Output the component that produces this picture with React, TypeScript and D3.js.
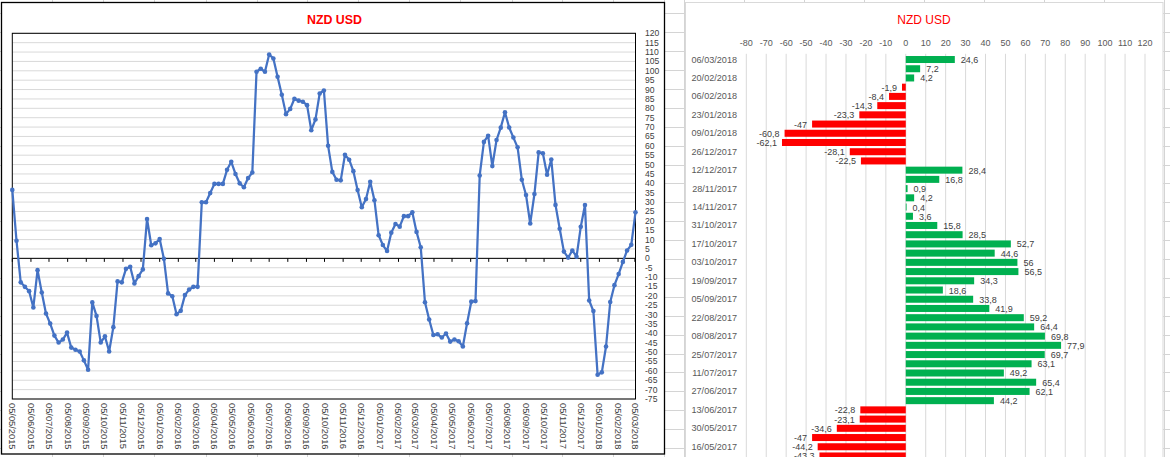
import React, { useEffect } from 'react';
import * as d3 from 'd3';

// Weekly report dates (Tuesdays)
const weekDates: string[] = [
  '05/05/2015','12/05/2015','19/05/2015','26/05/2015','02/06/2015','09/06/2015','16/06/2015','23/06/2015','30/06/2015',
  '07/07/2015','14/07/2015','21/07/2015','28/07/2015','04/08/2015','11/08/2015','18/08/2015','25/08/2015',
  '01/09/2015','08/09/2015','15/09/2015','22/09/2015','29/09/2015','06/10/2015','13/10/2015','20/10/2015','27/10/2015',
  '03/11/2015','10/11/2015','17/11/2015','24/11/2015','01/12/2015','08/12/2015','15/12/2015','22/12/2015','29/12/2015',
  '05/01/2016','12/01/2016','19/01/2016','26/01/2016','02/02/2016','09/02/2016','16/02/2016','23/02/2016',
  '01/03/2016','08/03/2016','15/03/2016','22/03/2016','29/03/2016','05/04/2016','12/04/2016','19/04/2016','26/04/2016',
  '03/05/2016','10/05/2016','17/05/2016','24/05/2016','31/05/2016','07/06/2016','14/06/2016','21/06/2016','28/06/2016',
  '05/07/2016','12/07/2016','19/07/2016','26/07/2016','02/08/2016','09/08/2016','16/08/2016','23/08/2016','30/08/2016',
  '06/09/2016','13/09/2016','20/09/2016','27/09/2016','04/10/2016','11/10/2016','18/10/2016','25/10/2016',
  '01/11/2016','08/11/2016','15/11/2016','22/11/2016','29/11/2016','06/12/2016','13/12/2016','20/12/2016','27/12/2016',
  '03/01/2017','10/01/2017','17/01/2017','24/01/2017','31/01/2017','07/02/2017','14/02/2017','21/02/2017','28/02/2017',
  '07/03/2017','14/03/2017','21/03/2017','28/03/2017','04/04/2017','11/04/2017','18/04/2017','25/04/2017',
  '02/05/2017','09/05/2017','16/05/2017','23/05/2017','30/05/2017','06/06/2017','13/06/2017','20/06/2017','27/06/2017',
  '04/07/2017','11/07/2017','18/07/2017','25/07/2017','01/08/2017','08/08/2017','15/08/2017','22/08/2017','29/08/2017',
  '05/09/2017','12/09/2017','19/09/2017','26/09/2017','03/10/2017','10/10/2017','17/10/2017','24/10/2017','31/10/2017',
  '07/11/2017','14/11/2017','21/11/2017','28/11/2017','05/12/2017','12/12/2017','19/12/2017','26/12/2017',
  '02/01/2018','09/01/2018','16/01/2018','23/01/2018','30/01/2018','06/02/2018','13/02/2018','20/02/2018','27/02/2018',
  '06/03/2018'
];

// Net position values
const netPositions: number[] = [
  36.5, 9.4, -12.8, -15.2, -17.5, -26.2, -6.3, -18.2, -29.4, -34.8,
  -41.2, -44.9, -43.3, -39.6, -47.6, -48.7, -49.7, -54.4, -59.4, -23.5,
  -30.7, -44.9, -41.6, -49.7, -36.7, -12.3, -12.8, -5.6, -4.5, -13.4,
  -9.5, -5.9, 21.0, 7.0, 8.0, 10.3, -0.2, -18.7, -20.2, -29.8,
  -28.0, -19.6, -16.6, -15.2, -15.2, 29.9, 29.9, 34.8, 39.7, 39.7,
  39.7, 47.2, 51.5, 45.0, 40.0, 37.9, 42.8, 45.8, 99.5, 101.1,
  99.5, 108.7, 106.6, 96.8, 87.2, 76.9, 79.7, 85.1, 84.1, 83.5,
  81.7, 68.3, 74.1, 87.9, 89.5, 60.0, 46.1, 41.9, 41.6, 55.2,
  52.6, 46.5, 36.4, 27.3, 31.6, 40.8, 31.0, 12.3, 7.1, 3.9,
  13.7, 18.3, 16.9, 22.5, 22.5, 24.6, 14.1, 5.9, -23.4, -32.6,
  -40.9, -40.5, -42.2, -40.1, -44.4,
  -43.3, -44.2, -47, -34.6, -23.1, -22.8, 44.2, 62.1, 65.4, 49.2,
  63.1, 69.7, 77.9, 69.8, 64.4, 59.2, 41.9, 33.8, 18.6, 34.3,
  56.5, 56, 44.6, 52.7, 28.5, 15.8, 3.6, 0.4, 4.2, 0.9,
  16.8, 28.4, -22.5, -28.1, -62.1, -60.8, -47, -23.3, -14.3, -8.4,
  -1.9, 4.2, 7.2, 24.6
];

const monthTicks: string[] = [
  '05/05/2015','05/06/2015','05/07/2015','05/08/2015','05/09/2015','05/10/2015','05/11/2015','05/12/2015',
  '05/01/2016','05/02/2016','05/03/2016','05/04/2016','05/05/2016','05/06/2016','05/07/2016','05/08/2016',
  '05/09/2016','05/10/2016','05/11/2016','05/12/2016','05/01/2017','05/02/2017','05/03/2017','05/04/2017',
  '05/05/2017','05/06/2017','05/07/2017','05/08/2017','05/09/2017','05/10/2017','05/11/2017','05/12/2017',
  '05/01/2018','05/02/2018','05/03/2018'
];

const lineYTicks: number[] = [120,115,110,105,100,95,90,85,80,75,70,65,60,55,50,45,40,35,30,25,20,15,10,5,0,
  -5,-10,-15,-20,-25,-30,-35,-40,-45,-50,-55,-60,-65,-70,-75];

const barXTicks: number[] = [-80,-70,-60,-50,-40,-30,-20,-10,0,10,20,30,40,50,60,70,80,90,100,110,120];

const chartTitle = 'NZD USD';

const FONT = "'Liberation Sans', Arial, sans-serif";

export default function App() {
  useEffect(() => {
    document.body.style.margin = '0';
  }, []);

  const W = 1170, H = 457;
  const parse = d3.timeParse('%d/%m/%Y');
  const dates = weekDates.map((s) => parse(s) as Date);
  const ticks = monthTicks.map((s) => parse(s) as Date);

  // ---------- Left line chart ----------
  const plot = { left: 12.3, right: 635.5, top: 33.3, bottom: 399 };
  const x = d3.scaleTime().domain([dates[0], dates[dates.length - 1]]).range([plot.left, plot.right]);
  const y = d3.scaleLinear().domain([-75, 120]).range([plot.bottom, plot.top]);
  const linePath = d3.line<number>()
    .x((_, i) => x(dates[i]))
    .y((d) => y(d))(netPositions) || '';

  // ---------- Right bar chart ----------
  const n = netPositions.length;
  const order = d3.range(n).reverse();
  const step = 9.22;
  const bandTop = 53.8;
  const yb = d3.scaleBand<number>()
    .domain(order)
    .range([bandTop, bandTop + step * (n + 0.24)])
    .paddingInner(0.24)
    .paddingOuter(0.24);
  const xb = d3.scaleLinear().domain([-80, 120]).range([746.3, 1145]);
  const lbl = (v: number) => String(v).replace('.', ',');
  // bars below the window are clipped, as in the spreadsheet view; only their labels inside the view are drawn
  const inView = (i: number) => (yb(i) as number) < H;

  // spreadsheet background grid
  const sheetCols = [52, 103, 154, 206, 257, 307, 358, 409, 460, 512, 562, 613, 664, 684, 744, 804, 864, 924, 984, 1044, 1104, 1164];
  const sheetRows = d3.range(13.3, H, 18.9);

  return (
    <svg width={W} height={H} style={{ position: 'absolute', left: 0, top: 0, display: 'block', overflow: 'hidden' }}
      fontFamily={FONT}>
      <rect x={0} y={0} width={W} height={H} fill="#ffffff" />
      {sheetCols.map((c, i) => (
        <line key={'c' + i} x1={c + 0.5} x2={c + 0.5} y1={0} y2={H} stroke="#d4d4d4" strokeWidth={1} />
      ))}
      {sheetRows.map((r, i) => (
        <line key={'r' + i} x1={0} x2={W} y1={Math.round(r) + 0.5} y2={Math.round(r) + 0.5} stroke="#d4d4d4" strokeWidth={1} />
      ))}

      {/* Left chart */}
      <rect x={1.5} y={2.5} width={663} height={451.5} fill="#ffffff" stroke="#000000" strokeWidth={1.3} />
      <text x={334.5} y={24} textAnchor="middle" fill="#ff0000" fontWeight="bold" fontSize={12.4}>{chartTitle}</text>
      {lineYTicks.map((t) => (
        <line key={'g' + t} x1={plot.left} x2={plot.right} y1={y(t)} y2={y(t)} stroke="#d9d9d9" strokeWidth={1} />
      ))}
      <rect x={plot.left} y={plot.top} width={plot.right - plot.left} height={plot.bottom - plot.top}
        fill="none" stroke="#000000" strokeWidth={1} />
      <line x1={plot.left} x2={plot.right} y1={y(0)} y2={y(0)} stroke="#000000" strokeWidth={1} />
      {ticks.map((t, i) => (
        <line key={'t' + i} x1={x(t)} x2={x(t)} y1={y(0)} y2={y(0) + 3.5} stroke="#000000" strokeWidth={1} />
      ))}
      {lineYTicks.map((t) => (
        <text key={'yl' + t} x={645} y={y(t)} dominantBaseline="central" fontSize={8.6} fill="#404040">{t}</text>
      ))}
      {ticks.map((t, i) => (
        <text key={'xl' + i} transform={`translate(${x(t)},${403}) rotate(90)`} dominantBaseline="central"
          fontSize={9.3} fill="#404040">{monthTicks[i]}</text>
      ))}
      <path d={linePath} fill="none" stroke="#4472c4" strokeWidth={2.25} strokeLinejoin="round" />
      {netPositions.map((v, i) => (
        <circle key={'m' + i} cx={x(dates[i])} cy={y(v)} r={2.3} fill="#4472c4" />
      ))}

      {/* Right chart */}
      <rect x={685.5} y={2.5} width={477.5} height={H + 10} fill="#ffffff" stroke="#d9d9d9" strokeWidth={1} />
      <text x={924} y={24} textAnchor="middle" fill="#ff0000" fontSize={12}>{chartTitle}</text>
      {barXTicks.map((t) => (
        <g key={'bx' + t}>
          <line x1={xb(t)} x2={xb(t)} y1={bandTop} y2={H} stroke="#d9d9d9" strokeWidth={1} />
          <text x={xb(t)} y={43} textAnchor="middle" dominantBaseline="central" fontSize={9} fill="#595959">{t}</text>
        </g>
      ))}
      {order.map((i) => {
        const v = netPositions[i];
        const y0 = yb(i) as number;
        const bw = yb.bandwidth();
        const x0 = xb(Math.min(0, v));
        const w = Math.abs(xb(v) - xb(0));
        return (
          <g key={'b' + i}>
            <rect x={x0} y={y0} width={w} height={bw} fill={v >= 0 ? '#00b050' : '#ff0000'} />
            {inView(i) && (
              <text x={v >= 0 ? xb(v) + 6 : xb(v) - 5} y={y0 + bw / 2 + 0.5} dominantBaseline="central"
                textAnchor={v >= 0 ? 'start' : 'end'} fontSize={9} fill="#404040">{lbl(v)}</text>
            )}
          </g>
        );
      })}
      {order.filter((_, k) => k % 2 === 0).filter(inView).map((i) => (
        <text key={'bl' + i} x={737} y={(yb(i) as number) + yb.bandwidth() / 2} textAnchor="end"
          dominantBaseline="central" fontSize={9.1} fill="#595959">{weekDates[i]}</text>
      ))}
    </svg>
  );
}
